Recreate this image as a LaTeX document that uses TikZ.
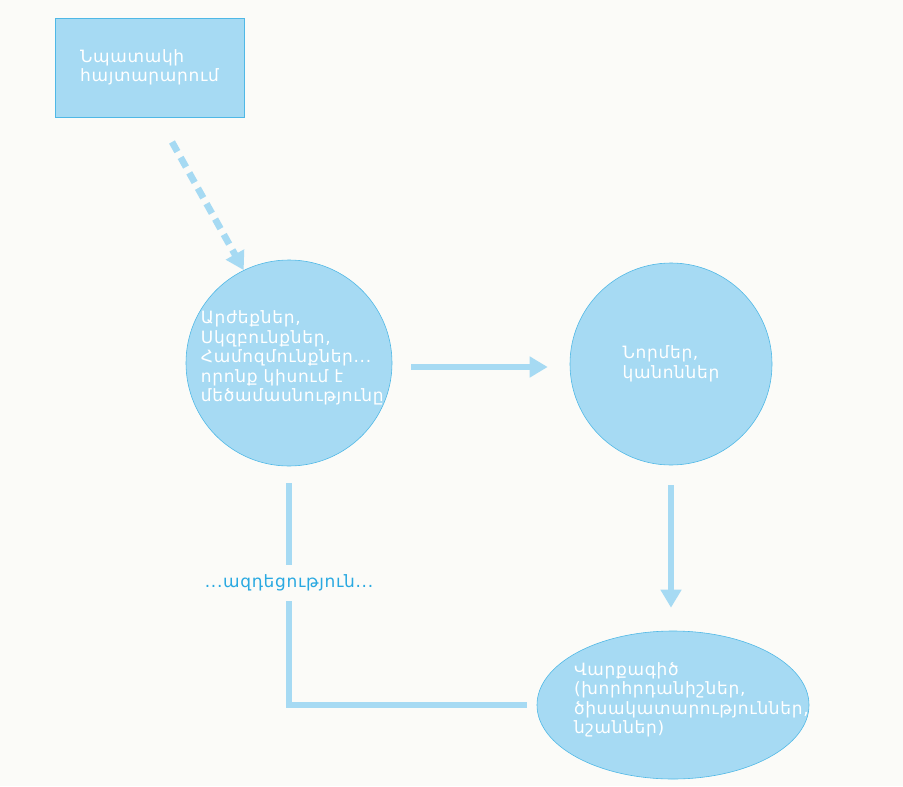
\documentclass[tikz,border=0pt]{standalone}
\usepackage{fontspec}
\setmainfont[LetterSpace=4]{DejaVu Sans}
\usetikzlibrary{
		positioning,
		arrows.meta,
		shapes.geometric
	}
\definecolor{paper}{HTML}{FBFBF8}
\definecolor{skyfill}{HTML}{A6DAF3}
\definecolor{skyline}{HTML}{4FB8E6}
\definecolor{skytext}{HTML}{29A9E1}
\tikzset{
		>=stealth,
		words/.style={text=white, align=left, inner sep=0pt, font=\fontsize{14.5}{16.6}\selectfont},
		panel/.style={draw=skyline, fill=skyfill, line width=0.5pt, words, inner sep=-1cm},
		blob/.style={panel, circle},
		link/.style={draw=skyfill, line width=0.18cm},
		tip/.style={-{Triangle[length=0.54cm,width=0.6cm]}}
	}

\begin{document}
\begin{tikzpicture}[x=0.03cm, y=-0.03cm] % one unit = one pixel of the 903x786 sheet
		\fill[paper] (0,0) rectangle (903,786);
		\useasboundingbox (0,0) rectangle (903,786);
		% the four boxes
		\node[panel, rectangle, minimum width=5.67cm, minimum height=2.97cm] (goal) at (149.5,67.5) {Նպատակի\\հայտարարում};
		\node[blob, minimum size=6.18cm,
		  label={[words, xshift=0.1cm, yshift=0.15cm]center:{Արժեքներ,\\Սկզբունքներ,\\Համոզմունքներ...\\որոնք կիսում է\\մեծամասնությունը}}] (values) at (289,363) {};
		\node[blob, minimum size=6.06cm] (norms) at (671,364) {Նորմեր,\\կանոններ};
		\node[panel, ellipse, minimum width=8.16cm, minimum height=4.44cm,
		  label={[words, xshift=0.55cm, yshift=0.15cm]center:{Վարքագիծ\\(խորհրդանիշներ,\\ծիսակատարություններ,\\նշաններ)}}] (conduct) at (673,705) {};
		\coordinate (goalfoot) at (172,142);
		% connectors
		\draw[link, tip, dash pattern=on 0.33cm off 0.2cm, line width=0.2cm] (goalfoot) -- (values.116);
		\draw[link, tip, shorten <=0.57cm, shorten >=0.66cm] (values.east |- 0,367) -- (norms.west |- 0,367);
		\draw[link, tip, shorten <=0.6cm, shorten >=0.69cm] (norms.south) -- (norms.south |- conduct.north);
		\draw[link, shorten <=0.3cm, shorten >=0.5cm] (conduct.west) -| (values.south)
		  node[pos=0.755, fill=paper, inner xsep=2pt, inner ysep=0.3cm, text=skytext, font=\fontsize{14.5}{16}\selectfont] (impact) {...ազդեցություն...};
	\end{tikzpicture}
\end{document}
